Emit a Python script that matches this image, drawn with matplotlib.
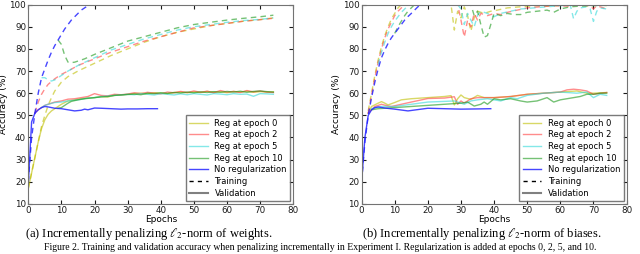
import numpy as np
import matplotlib.pyplot as plt

# ---------------- data: (a) penalizing weights ----------------
w_blue_tr_ep = [0, 1, 2, 3, 4, 5, 6, 7, 8, 9, 10, 11, 12, 13, 14, 15, 16, 17, 18, 19, 39]
w_blue_tr = [20, 40, 51, 60, 67, 71, 75, 78.5, 81.5, 84, 86.5, 89, 91, 93, 94.5, 96, 97.5, 98.5, 99.5, 100, 100]
w_blue_va_ep = [0, 1, 2, 3, 4, 5, 6, 7, 8, 10, 12, 14, 16, 17, 18, 20, 22, 25, 28, 30, 33, 36, 39]
w_blue_va = [19, 47, 51, 52.5, 53.5, 54, 53.8, 53.5, 53.2, 53, 52.5, 52, 52.3, 52.8, 52.5, 53.3, 53.2, 53, 52.8, 52.9, 52.9, 53, 53]

w_y_tr_ep = [0, 1, 2, 3, 4, 5, 6, 7, 8, 10, 12, 15, 20, 25, 30, 35, 40, 45, 50, 55, 60, 65, 70, 74]
w_y_tr = [17, 24, 31, 38, 45, 50, 54.5, 58, 61, 65, 67.5, 70, 73.5, 77, 80, 83, 85.5, 87.5, 89, 90.5, 91.5, 92.5, 93.2, 94]
w_r_tr_ep = [2, 3, 4, 5, 6, 8, 10, 12, 15, 20, 25, 30, 35, 40, 45, 50, 55, 60, 65, 70, 74]
w_r_tr = [51, 56, 59.5, 62, 64, 66.5, 68.5, 70, 72.5, 75.5, 78.5, 81, 83.5, 85.5, 87.5, 89.5, 90.5, 91.5, 92.5, 93.2, 93.8]
w_c_tr_ep = [4, 5, 6, 7, 8, 9, 10, 12, 15, 20, 25, 30, 35, 40, 45, 50, 55, 60, 65, 70, 74]
w_c_tr = [67, 67, 66, 65.5, 66, 67, 68, 70, 72.5, 76, 79.5, 82, 84.5, 86.5, 88.5, 90, 91, 92, 92.8, 93.3, 94]
w_g_tr_ep = [9, 10, 11, 12, 13, 14, 15, 17, 20, 25, 30, 35, 40, 45, 50, 55, 60, 65, 70, 74]
w_g_tr = [84, 82, 77, 74, 73.8, 74, 74.5, 75.5, 77.5, 80.5, 83.5, 85.5, 87.5, 89.5, 91, 92, 93, 93.8, 94.5, 95.2]

w_tail_ep = list(range(30, 75, 2))
w_y_va_ep = [0, 1, 2, 3, 4, 5, 6, 7, 8, 9, 10, 12, 14, 16, 18, 20, 22, 24, 26, 28] + w_tail_ep
w_y_va = [17, 24, 31, 38, 44, 48, 50.5, 52, 53, 54, 55, 56.5, 57, 57.5, 57.8, 58, 58.5, 58.3, 59, 59.2,
          59.5, 59.8, 60, 59.7, 60.2, 60, 59.8, 60.3, 60.5, 60.2, 60.6, 60.3, 60.8, 60.4, 60.7, 60.2,
          60.8, 60.5, 60.9, 60.4, 60.7, 60.5, 60.6]
w_r_va_ep = [2, 3, 4, 5, 6, 8, 10, 12, 14, 16, 18, 20, 22, 24, 26, 28] + w_tail_ep
w_r_va = [51, 52.5, 53.5, 54.5, 55, 56, 56.5, 57.3, 57.5, 58, 58.5, 59.8, 59, 58.8, 59.5, 59.3,
          59.6, 60.2, 59.8, 60.4, 60, 59.7, 60.5, 60.2, 60.8, 60.3, 61, 60.4, 60.9, 60.2, 61.2,
          60.5, 60.8, 60.3, 61.2, 60.6, 61, 60.5, 60.3]
w_c_va_ep = [4, 5, 6, 8, 10, 12, 15, 18, 20, 22, 24, 26, 28] + w_tail_ep
w_c_va = [53.5, 54.5, 55, 55.8, 56, 56.5, 57, 57.8, 58, 58.5, 58.7, 59, 59.2,
          59.5, 59.3, 59.8, 59.5, 59.2, 59.8, 59.5, 59.2, 59.7, 59.3, 59.8, 59.5, 59.2, 59.8,
          59.6, 59.3, 59.8, 59.5, 59.6, 58.6, 59.8, 59.7, 59.5]
w_g_va_ep = [9, 10, 11, 12, 13, 15, 17, 20, 22, 24, 26, 28] + w_tail_ep
w_g_va = [53.2, 53.5, 54.5, 55.5, 56.3, 57, 57.5, 58, 58.3, 58.5, 59, 59.2,
          59.4, 59.6, 59.3, 60, 59.8, 60.2, 59.9, 60.3, 60.1, 60.5, 60.2, 60.6, 60.3, 60.7,
          60.4, 60.8, 60.5, 60.9, 60.4, 60.8, 61, 60.7, 60.5]

# ---------------- data: (b) penalizing biases ----------------
b_blue_tr_ep = [0, 1, 2, 3, 4, 5, 6, 7, 8, 9, 10, 11, 12, 13, 14, 15, 16, 17, 18, 39]
b_blue_tr = [20, 38, 50, 58, 65, 71, 76, 79.5, 82.5, 85, 87, 89, 91, 93, 94.6, 96, 97.5, 99, 100, 100]
b_blue_va_ep = [0, 1, 2, 3, 4, 5, 7, 10, 12, 14, 16, 18, 20, 25, 30, 35, 39]
b_blue_va = [20, 40, 50, 52.5, 53.5, 53.8, 53.3, 52.8, 52.4, 52, 52.4, 52.8, 53.2, 53, 52.8, 52.9, 53]

b_y_tr_ep = [2, 3, 4, 5, 6, 7, 8, 9, 10, 11, 12, 27, 28, 29, 30, 31, 32, 33, 34, 35, 37, 39, 41, 44, 48, 52, 56, 60, 64, 68, 72, 74]
b_y_tr = [52, 60, 68, 75, 81, 86, 90, 93.5, 96, 98.5, 100, 100, 88.5, 97, 94, 99, 95, 88, 94, 97, 96, 97, 97.5, 98.5, 99, 99.5, 99.3, 99.6, 99.8, 99.5, 99.8, 99.5]
b_r_tr_ep = [2, 3, 4, 5, 6, 7, 8, 9, 10, 11, 12, 13, 29, 30, 31, 32, 33, 34, 35, 36, 38, 40, 42, 44, 47, 50, 54, 58, 62, 66, 69, 70, 71, 74]
b_r_tr = [51, 59, 67, 74, 80, 85, 89, 92, 95, 97, 98.5, 100, 100, 93, 85.3, 93, 90, 96, 93, 96, 95, 96, 95.5, 96.5, 97.5, 98.5, 99, 99.5, 99.3, 99.8, 99.5, 98, 99.5, 98]
b_c_tr_ep = [5, 6, 7, 8, 9, 10, 11, 12, 13, 14, 15, 29, 30, 31, 32, 33, 34, 35, 36, 38, 40, 42, 45, 48, 52, 56, 60, 63, 64, 65, 66, 68, 69, 70, 71, 72, 74]
b_c_tr = [73, 78.5, 83, 87, 90, 92.5, 94.5, 96.5, 98, 99.5, 100, 100, 98, 91, 96, 93, 90, 95, 97, 96, 94.5, 96, 97, 98, 98.5, 99, 99.5, 99.8, 93.6, 97, 98.5, 99, 98, 92.4, 97, 98.5, 98]
b_g_tr_ep = [10, 11, 12, 13, 14, 15, 16, 33, 34, 35, 36, 37, 38, 39, 40, 42, 44, 46, 48, 50, 53, 56, 58, 60, 63, 66, 70, 74]
b_g_tr = [87, 90, 92.5, 95, 97, 98.5, 100, 100, 95, 97, 91, 85.3, 86, 91, 96, 95, 96, 95.5, 95.5, 96.5, 97, 97.5, 96.5, 98, 99, 99.3, 99.5, 99.7]

b_y_va_ep = [2, 3, 5, 6, 7, 8, 10, 12, 15, 20, 25, 27, 28, 29, 30, 31, 33, 35, 37, 40, 45, 50, 55, 60, 65, 68, 70, 74]
b_y_va = [51, 54, 55.5, 56.2, 55.5, 54.7, 55.8, 57, 57.5, 58, 58.5, 58.9, 54.7, 57.5, 59.2, 58, 57.2, 59, 58, 58, 58.5, 59.5, 60, 60.5, 61, 60, 60, 60.3]
b_r_va_ep = [2, 4, 6, 8, 9, 12, 15, 20, 25, 28, 29, 30, 31, 33, 35, 40, 45, 50, 55, 60, 62, 64, 66, 68, 70, 74]
b_r_va = [51, 54, 55, 54.2, 54, 55, 56, 57.6, 57.8, 58.4, 55, 56.5, 55.5, 57.5, 58, 58, 58.5, 59.5, 60, 60.5, 61.5, 61.8, 61.5, 61, 59.5, 60.3]
b_c_va_ep = [3, 6, 10, 15, 20, 25, 28, 30, 31, 33, 35, 38, 40, 42, 45, 47, 50, 55, 60, 65, 68, 70, 72, 74]
b_c_va = [53, 54, 54, 55, 56, 56.3, 56.5, 55.5, 55, 56.5, 57, 57.5, 57, 56.5, 58, 57.5, 59, 60, 60.5, 60, 60.5, 58, 59.5, 59]
b_g_va_ep = [3, 5, 10, 15, 20, 25, 28, 30, 32, 34, 36, 37, 38, 40, 42, 45, 48, 50, 53, 56, 58, 60, 62, 64, 66, 68, 70, 72, 74]
b_g_va = [52.5, 53, 53.5, 54, 54.5, 55, 55.3, 55.5, 56, 54.2, 55, 56, 55, 57.5, 57, 57.5, 56.5, 56, 56.5, 58, 56, 57, 57.5, 58, 58.5, 59.5, 59.5, 60, 60]

labels = ["Reg at epoch 0", "Reg at epoch 2", "Reg at epoch 5", "Reg at epoch 10", "No regularization"]
colors = [(0.75, 0.75, 0), (1, 0.25, 0.25), (0.2, 0.85, 0.85), (0.1, 0.6, 0.1), (0.15, 0.15, 1)]

plt.rcParams['font.family'] = 'DejaVu Sans'
plt.rcParams['mathtext.fontset'] = 'stix'

fig = plt.figure(figsize=(6.4, 2.54), dpi=100)
ax1 = fig.add_axes([0.0442, 0.197, 0.414, 0.785])
ax2 = fig.add_axes([0.565, 0.197, 0.414, 0.785])

panels = [
    (ax1, [(w_y_tr_ep, w_y_tr, w_y_va_ep, w_y_va), (w_r_tr_ep, w_r_tr, w_r_va_ep, w_r_va),
           (w_c_tr_ep, w_c_tr, w_c_va_ep, w_c_va), (w_g_tr_ep, w_g_tr, w_g_va_ep, w_g_va),
           (w_blue_tr_ep, w_blue_tr, w_blue_va_ep, w_blue_va)]),
    (ax2, [(b_y_tr_ep, b_y_tr, b_y_va_ep, b_y_va), (b_r_tr_ep, b_r_tr, b_r_va_ep, b_r_va),
           (b_c_tr_ep, b_c_tr, b_c_va_ep, b_c_va), (b_g_tr_ep, b_g_tr, b_g_va_ep, b_g_va),
           (b_blue_tr_ep, b_blue_tr, b_blue_va_ep, b_blue_va)]),
]

for ax, series in panels:
    for (te, tv, ve, vv), c, lab in zip(series, colors, labels):
        a = 0.85 if lab.startswith("No") else 0.6
        ax.plot(te, tv, "--", color=c, alpha=a, lw=1.0, dashes=(4, 3))
        ax.plot(ve, vv, "-", color=c, alpha=a, lw=1.0)
    handles = [plt.Line2D([], [], color=c, alpha=0.85 if l.startswith("No") else 0.6, lw=1.0)
               for c, l in zip(colors, labels)]
    handles += [plt.Line2D([], [], color="k", ls="--", lw=1.0, dashes=(3, 3)),
                plt.Line2D([], [], color="gray", lw=1.5)]
    ax.legend(handles, labels + ["Training", "Validation"], loc="lower right",
              fontsize=6, frameon=True, fancybox=False, edgecolor="0.35",
              handlelength=2.2, labelspacing=0.32, borderpad=0.4, borderaxespad=0.35,
              handletextpad=0.8)
    ax.set_xlim(0, 80)
    ax.set_ylim(10, 100)
    ax.set_xticks(range(0, 81, 10))
    ax.set_yticks(range(10, 101, 10))
    ax.tick_params(direction="in", top=True, right=True, labelsize=6.3, length=3, pad=1.5, colors="0.1")
    for s in ax.spines.values():
        s.set_color("0.45")
    ax.set_xlabel("Epochs", fontsize=6.5, labelpad=0)
    ax.set_ylabel("Accuracy (%)", fontsize=6.5, labelpad=1)

fig.text(0.232, 0.078, r"(a) Incrementally penalizing $\ell_2$-norm of weights.",
         ha="center", va="center", fontsize=9, family="Liberation Serif")
fig.text(0.753, 0.078, r"(b) Incrementally penalizing $\ell_2$-norm of biases.",
         ha="center", va="center", fontsize=9, family="Liberation Serif")
fig.text(0.5, 0.008, "Figure 2. Training and validation accuracy when penalizing incrementally in "
         "Experiment I. Regularization is added at epochs 0, 2, 5, and 10.",
         ha="center", va="bottom", fontsize=7, family="Liberation Serif")

fig.savefig("out.png", dpi=100)
